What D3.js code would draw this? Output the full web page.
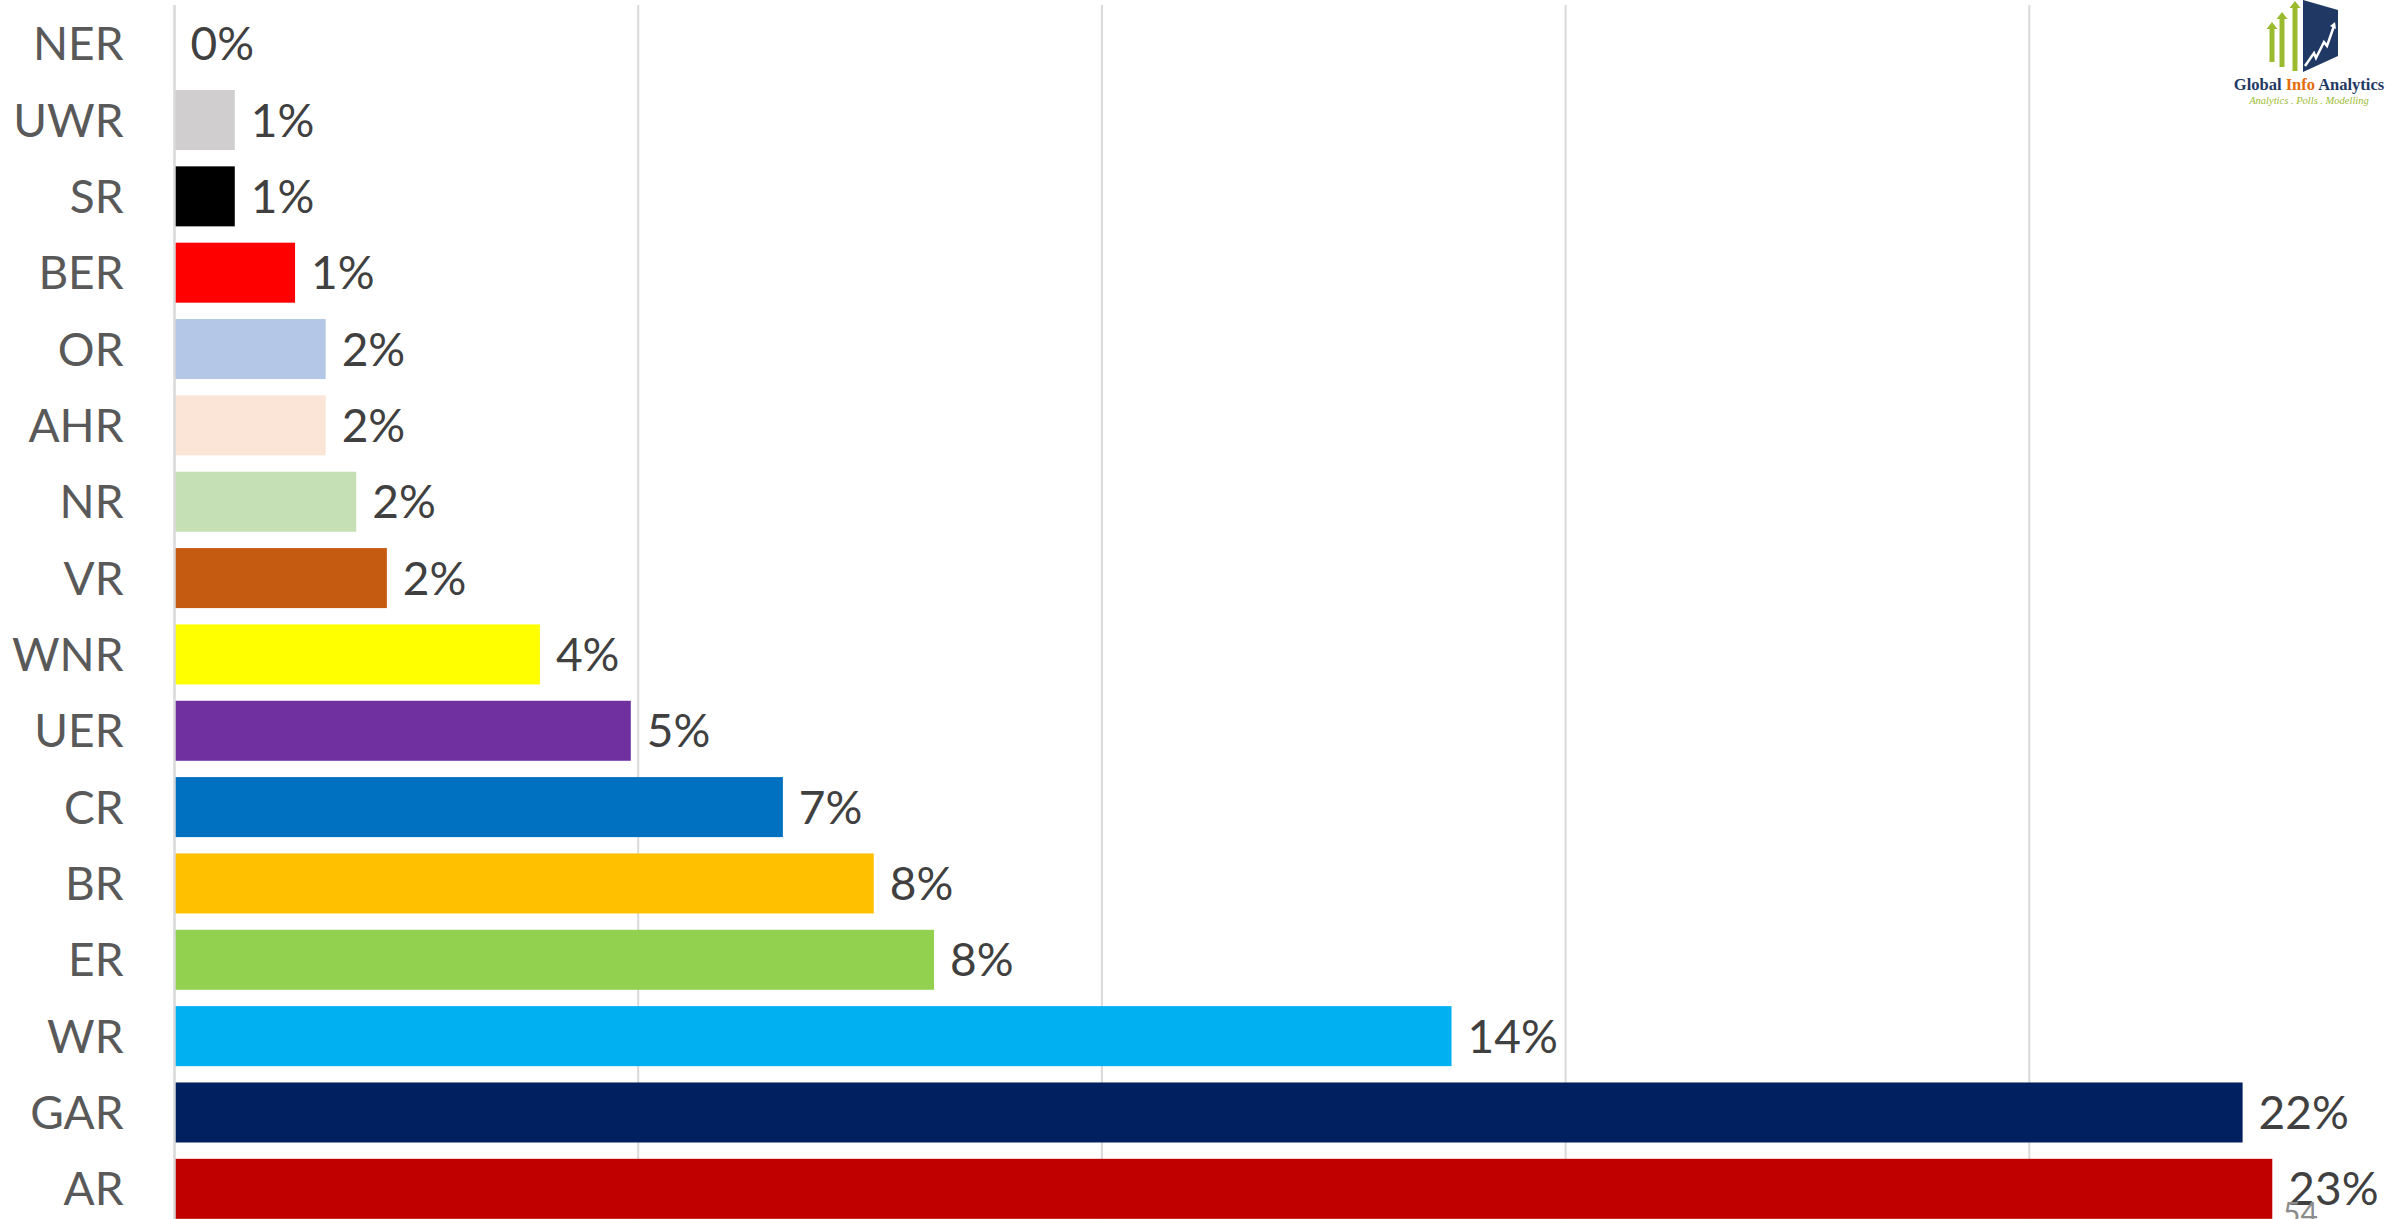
<!DOCTYPE html>
<html>
<head>
<meta charset="utf-8">
<script src="https://cdn.jsdelivr.net/npm/d3@7"></script>
<style>
  html, body { margin: 0; padding: 0; background: #fff; overflow: hidden; }
  svg { display: block; font-family: Lato, "Open Sans", sans-serif; }
</style>
</head>
<body>
<div id="chart"></div>
<script>
// regions, top to bottom as drawn
const regions = ["NER", "UWR", "SR", "BER", "OR", "AHR", "NR", "VR", "WNR", "UER", "CR", "BR", "ER", "WR", "GAR", "AR"];
// share in %
const shares = [0, 0.65, 0.65, 1.30, 1.63, 1.63, 1.96, 2.29, 3.94, 4.92, 6.56, 7.54, 8.19, 13.77, 22.30, 22.62];
const barColors = ["#d0cece", "#d0cece", "#000000", "#ff0000", "#b4c7e7", "#fbe5d6", "#c5e0b4", "#c55a11",
                   "#ffff00", "#7030a0", "#0070c0", "#ffc000", "#92d050", "#00b0f0", "#002060", "#c00000"];
const gridTicks = [0, 5, 10, 15, 20];

const data = regions.map((r, i) => ({ region: r, value: shares[i], color: barColors[i] }));

const width = 2408, height = 1219;

const svg = d3.select('#chart')
  .append('svg')
    .attr('width', width)
    .attr('height', height);

const x = d3.scaleLinear()
  .domain([0, 25])
  .range([174.5, 2493]);

const y = d3.scaleBand()
  .domain(regions)
  .range([5.5, 1227])
  .paddingInner(0.214)
  .paddingOuter(0.107);

// vertical gridlines
svg.append('g')
  .selectAll('line')
  .data(gridTicks.slice(1))
  .enter()
  .append('line')
    .attr('x1', d => x(d))
    .attr('x2', d => x(d))
    .attr('y1', 5)
    .attr('y2', height)
    .attr('stroke', '#d9d9d9')
    .attr('stroke-width', 2);

// bars
svg.append('g')
  .selectAll('rect')
  .data(data)
  .enter()
  .append('rect')
    .attr('x', x(0) + 0.5)
    .attr('y', d => y(d.region))
    .attr('width', d => Math.max(0, x(d.value) - x(0) - 0.5))
    .attr('height', y.bandwidth())
    .attr('fill', d => d.color);

// category axis
const yAxis = svg.append('g')
  .attr('transform', `translate(${x(0)},0)`)
  .call(d3.axisLeft(y).tickSize(0).tickPadding(51));

yAxis.select('.domain')
  .attr('d', `M0,5V${height}`)
  .attr('stroke', '#d9d9d9')
  .attr('stroke-width', 2.5);

yAxis.selectAll('text')
  .attr('font-family', 'Lato, "Open Sans", sans-serif')
  .attr('font-size', 46)
  .attr('fill', '#595959')
  .attr('dy', '0.36em');

// value labels
svg.append('g')
  .selectAll('text')
  .data(data)
  .enter()
  .append('text')
    .attr('x', d => x(d.value) + 16)
    .attr('y', d => y(d.region) + y.bandwidth() / 2)
    .attr('dy', '0.36em')
    .attr('font-size', 46)
    .attr('fill', '#404040')
    .text(d => Math.round(d.value) + '%');

// slide number
svg.append('text')
  .attr('x', 2283)
  .attr('y', 1224)
  .attr('font-size', 30)
  .attr('fill', '#8c8c8c')
  .text('54');

// logo
const logo = svg.append('g').attr('transform', 'translate(2233,0)');

[[39, 22, 62], [49, 12, 67], [62, 1, 71]].forEach(([cx, top, bottom]) => {
  logo.append('path')
    .attr('d', `M${cx - 2.5},${bottom}V${top + 7}H${cx - 5.5}L${cx},${top}L${cx + 5.5},${top + 7}H${cx + 2.5}V${bottom}Z`)
    .attr('fill', '#9bbb2f');
});

logo.append('path')
  .attr('d', 'M70,0L105,10V56L70,72Z')
  .attr('fill', '#1f3864');

logo.append('path')
  .attr('d', 'M72,66L81,53L83,58L91,42L94,46L101,26')
  .attr('fill', 'none')
  .attr('stroke', '#fff')
  .attr('stroke-width', 2.5);

logo.append('path')
  .attr('d', 'M97,26L102,22L103,29Z')
  .attr('fill', '#fff');

const logoText = logo.append('text')
  .attr('x', 76)
  .attr('y', 90)
  .attr('text-anchor', 'middle')
  .attr('font-family', '"Liberation Serif", "DejaVu Serif", serif')
  .attr('font-weight', 'bold')
  .attr('font-size', 16.5)
  .attr('fill', '#1f3864');

logoText.append('tspan').text('Global ');
logoText.append('tspan').attr('fill', '#e46c0a').text('Info');
logoText.append('tspan').text(' Analytics');

logo.append('text')
  .attr('x', 76)
  .attr('y', 104)
  .attr('text-anchor', 'middle')
  .attr('font-family', '"Liberation Serif", "DejaVu Serif", serif')
  .attr('font-style', 'italic')
  .attr('font-size', 10.5)
  .attr('fill', '#9bbb2f')
  .text('Analytics . Polls . Modelling');
</script>
</body>
</html>
